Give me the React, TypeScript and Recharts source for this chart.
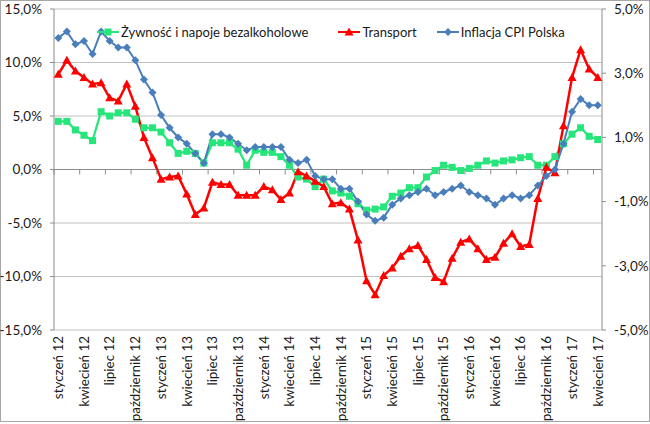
import React from 'react';
import {
  LineChart,
  Line,
  XAxis,
  YAxis,
  CartesianGrid,
  ReferenceLine,
  Legend,
} from 'recharts';

const MONTH_NAMES = [
  'styczeń', 'luty', 'marzec', 'kwiecień', 'maj', 'czerwiec',
  'lipiec', 'sierpień', 'wrzesień', 'październik', 'listopad', 'grudzień',
];
const YEARS = ['12', '13', '14', '15', '16', '17'];
const MONTH_COUNT = 64;

// Żywność i napoje bezalkoholowe, r/r %
const FOOD = [
  4.5, 4.5, 3.7, 3.2, 2.7, 5.4, 5.0, 5.3, 5.3, 4.7, 3.9, 3.9,
  3.5, 2.5, 1.5, 1.7, 1.5, 0.6, 2.5, 2.5, 2.5, 1.9, 0.4, 1.8,
  1.6, 1.6, 1.2, 0.4, -0.7, -0.9, -1.6, -0.9, -2.0, -2.2, -2.5, -3.2,
  -3.8, -3.7, -3.5, -2.5, -2.2, -1.7, -1.7, -0.7, -0.1, 0.4, 0.2, -0.1,
  0.1, 0.4, 0.8, 0.6, 0.8, 0.9, 1.1, 1.2, 0.4, 0.4, 1.2, 2.4,
  3.3, 3.9, 3.1, 2.8,
];

// Transport, r/r %
const TRANSPORT = [
  8.9, 10.2, 9.2, 8.6, 8.0, 8.1, 6.7, 6.4, 8.0, 5.9, 3.0, 1.1,
  -0.9, -0.7, -0.6, -2.3, -4.2, -3.6, -1.2, -1.4, -1.4, -2.4, -2.4, -2.4,
  -1.6, -1.9, -2.8, -2.2, -0.2, -0.6, -1.1, -1.6, -3.2, -3.1, -3.7, -6.6,
  -10.4, -11.7, -9.9, -9.2, -8.1, -7.4, -7.1, -8.4, -10.1, -10.5, -8.3, -6.8,
  -6.5, -7.4, -8.4, -8.2, -6.9, -6.0, -7.2, -7.0, -2.7, 0.2, -0.3, 4.1,
  8.6, 11.2, 9.4, 8.6,
];

// Inflacja CPI Polska, r/r % (prawa oś)
const CPI = [
  4.1, 4.3, 3.9, 4.0, 3.6, 4.3, 4.0, 3.8, 3.8, 3.4, 2.8, 2.4,
  1.7, 1.3, 1.0, 0.8, 0.5, 0.2, 1.1, 1.1, 1.0, 0.8, 0.6, 0.7,
  0.7, 0.7, 0.7, 0.3, 0.2, 0.3, -0.2, -0.3, -0.3, -0.6, -0.6, -1.0,
  -1.4, -1.6, -1.5, -1.1, -0.9, -0.8, -0.7, -0.6, -0.8, -0.7, -0.6, -0.5,
  -0.7, -0.8, -0.9, -1.1, -0.9, -0.8, -0.9, -0.8, -0.5, -0.2, 0.0, 0.8,
  1.8, 2.2, 2.0, 2.0,
];

const LEFT_TICKS = [-15, -10, -5, 0, 5, 10, 15];
const RIGHT_TICKS = [-5, -3, -1, 1, 3, 5];

const MONTHS = YEARS.flatMap(y => MONTH_NAMES.map(m => `${m} ${y}`)).slice(
  0,
  MONTH_COUNT
);

const data = MONTHS.map((month, i) => ({
  month,
  food: FOOD[i],
  transport: TRANSPORT[i],
  cpi: CPI[i],
}));

const FONT = 'Lato, "Open Sans", sans-serif';
const GREEN = '#26e57a';
const RED = '#ff0000';
const BLUE = '#4a7ebb';
const AXIS = '#8c8c8c';

const PLOT_TOP = 9;
const PLOT_LEFT = 54;
const PLOT_W = 548;
const PLOT_H = 321;
const HALF_STEP = PLOT_W / MONTH_COUNT / 2;
const ZERO_Y = PLOT_TOP + PLOT_H / 2;

const fmt = (v: number) => `${v.toFixed(1).replace('.', ',')}%`;

const square = (color: string) => (p: any) => (
  <rect key={`sq-${p.index}`} x={p.cx - 3.5} y={p.cy - 3.5} width={7} height={7} fill={color} />
);

const triangle = (color: string) => (p: any) => (
  <path
    key={`tr-${p.index}`}
    d={`M${p.cx},${p.cy - 4.5}L${p.cx + 4.5},${p.cy + 3.5}L${p.cx - 4.5},${p.cy + 3.5}Z`}
    fill={color}
  />
);

const diamond = (color: string) => (p: any) => (
  <path
    key={`dm-${p.index}`}
    d={`M${p.cx},${p.cy - 4}L${p.cx + 4},${p.cy}L${p.cx},${p.cy + 4}L${p.cx - 4},${p.cy}Z`}
    fill={color}
  />
);

const MonthTick = (props: any) => {
  const { x, payload } = props;
  const labelY = PLOT_TOP + PLOT_H + 6;
  return (
    <g>
      <line x1={x - HALF_STEP} x2={x - HALF_STEP} y1={ZERO_Y} y2={ZERO_Y + 5} stroke={AXIS} />
      <text
        x={x}
        y={labelY}
        dy='0.36em'
        textAnchor='end'
        transform={`rotate(-90, ${x}, ${labelY})`}
        fontSize={13.4}
        fontFamily={FONT}
        fill='#1a1a1a'
      >
        {payload.value}
      </text>
    </g>
  );
};

const LEGEND_ITEMS = [
  { name: 'Żywność i napoje bezalkoholowe', color: GREEN, marker: 'square' },
  { name: 'Transport', color: RED, marker: 'triangle' },
  { name: 'Inflacja CPI Polska', color: BLUE, marker: 'diamond' },
];

const LegendMarker = ({ color, marker }: { color: string; marker: string }) => (
  <svg width={22} height={10} style={{ marginRight: 2 }}>
    <line x1={0} x2={22} y1={5} y2={5} stroke={color} strokeWidth={2} />
    {marker === 'square' && <rect x={7.5} y={1.5} width={7} height={7} fill={color} />}
    {marker === 'triangle' && <path d='M11,0.5L15.5,8.5L6.5,8.5Z' fill={color} />}
    {marker === 'diamond' && <path d='M11,1L15,5L11,9L7,5Z' fill={color} />}
  </svg>
);

const renderLegend = () => (
  <div style={{ display: 'flex', alignItems: 'center', fontFamily: FONT, fontSize: 13, color: '#1a1a1a' }}>
    {LEGEND_ITEMS.map((item, i) => (
      <div
        key={item.name}
        style={{ display: 'flex', alignItems: 'center', marginRight: i === 0 ? 30 : 20 }}
      >
        <LegendMarker color={item.color} marker={item.marker} />
        <span>{item.name}</span>
      </div>
    ))}
  </div>
);

export default function App() {
  return (
    <div style={{ position: 'relative', width: 650, height: 424 }}>
      <style>{'body{margin:0}'}</style>
      <div
        style={{
          position: 'absolute',
          left: 0,
          top: 0,
          width: 648,
          height: 420,
          border: '1px solid #a6a6a6',
        }}
      />
      <LineChart
        width={650}
        height={424}
        data={data}
        margin={{ top: PLOT_TOP, right: 0, bottom: 0, left: 0 }}
        style={{ position: 'absolute', left: 0, top: 0 }}
      >
        <CartesianGrid yAxisId='left' vertical={false} stroke='#bfbfbf' strokeWidth={1.2} />
        <XAxis
          dataKey='month'
          interval={2}
          height={424 - PLOT_TOP - PLOT_H}
          padding={{ left: HALF_STEP, right: HALF_STEP }}
          axisLine={false}
          tickLine={false}
          tick={<MonthTick />}
        />
        <YAxis
          yAxisId='left'
          width={PLOT_LEFT}
          domain={[-15, 15]}
          ticks={LEFT_TICKS}
          tickFormatter={fmt}
          axisLine={{ stroke: AXIS }}
          tickLine={{ stroke: AXIS }}
          tickSize={4}
          tickMargin={8}
          tick={{ fontSize: 13.5, fontFamily: FONT, fill: '#1a1a1a' }}
        />
        <YAxis
          yAxisId='right'
          orientation='right'
          width={650 - PLOT_LEFT - PLOT_W}
          domain={[-5, 5]}
          ticks={RIGHT_TICKS}
          tickFormatter={fmt}
          axisLine={{ stroke: AXIS }}
          tickLine={{ stroke: AXIS }}
          tickSize={4}
          tickMargin={8}
          tick={{ fontSize: 13.5, fontFamily: FONT, fill: '#1a1a1a' }}
        />
        <ReferenceLine yAxisId='left' y={0} stroke={AXIS} />
        <Legend
          verticalAlign='middle'
          align='center'
          content={renderLegend}
          wrapperStyle={{ top: 24, left: 97, width: 'auto' }}
        />
        <Line
          yAxisId='left'
          dataKey='food'
          name='Żywność i napoje bezalkoholowe'
          stroke={GREEN}
          strokeWidth={2.25}
          dot={square(GREEN)}
          isAnimationActive={false}
        />
        <Line
          yAxisId='left'
          dataKey='transport'
          name='Transport'
          stroke={RED}
          strokeWidth={2.5}
          dot={triangle(RED)}
          isAnimationActive={false}
        />
        <Line
          yAxisId='right'
          dataKey='cpi'
          name='Inflacja CPI Polska'
          stroke={BLUE}
          strokeWidth={2}
          dot={diamond(BLUE)}
          isAnimationActive={false}
        />
      </LineChart>
    </div>
  );
}
